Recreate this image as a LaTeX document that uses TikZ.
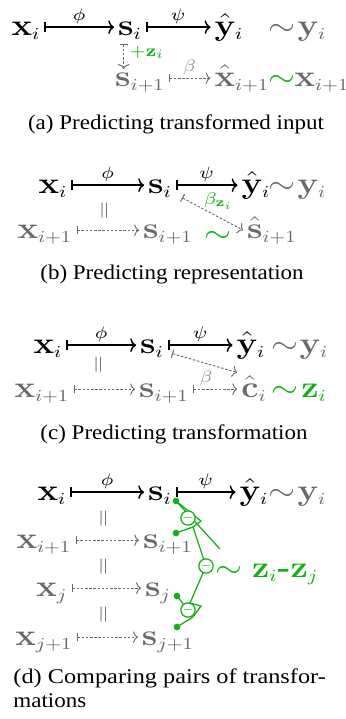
\documentclass[tikz,border=0pt]{standalone}
\usepackage{amsmath,amssymb,bm}
\usepackage[no-math]{fontspec}
\newfontfamily\capfont{Liberation Serif}
\usepackage{tikz}
\usetikzlibrary{arrows.meta,positioning,calc}
\DeclareMathSizes{14.4}{14.4}{8}{6}
\definecolor{green}{RGB}{20,175,20}
\definecolor{gray}{RGB}{105,105,105}
\definecolor{lightgray}{RGB}{150,150,150}

\begin{document}
\begin{tikzpicture}[x=0.478pt, y=-0.478pt,
    mnode/.style={xscale=1.15, inner sep=1.5pt, text height=10pt, text depth=2.5pt, font=\Large, anchor=base},
    gnode/.style={mnode, text=gray},
    lbl/.style={xscale=1.15, inner sep=1.5pt, font=\fontsize{8}{9}\selectfont},
    mapsto/.style={line width=0.7pt, {Bar[width=5pt,line width=0.8pt]}-{Computer Modern Rightarrow[width=6.5pt,length=2.8pt]}},
    dmapsto/.style={draw=gray, line width=0.45pt, dash pattern=on 1.2pt off 0.8pt, {Bar[width=4pt,line width=0.5pt]}-{Computer Modern Rightarrow[width=5.5pt,length=2.3pt]}},
    eqbar/.style={rotate=90, text=gray, inner sep=0pt, font=\fontsize{11}{12}\selectfont},
    captxt/.style={xscale=1.1, inner sep=0pt, anchor=base, font=\capfont\fontsize{10}{11.5}\selectfont},
    diff/.style={circle, draw=green, fill=white, line width=0.6pt, minimum size=6.2pt, inner sep=0pt, text=green, font=\fontsize{5}{5}\selectfont},
    gdot/.style={circle, fill=green, minimum size=3.2pt, inner sep=0pt},
    gline/.style={draw=green, line width=0.6pt}]
  \useasboundingbox (0,0) rectangle (346,719);

  % (a) predicting transformed input
  \node[mnode] (xA) at (26,35) {$\mathbf{x}_i$};
  \node[mnode] (sA) at (130,35) {$\mathbf{s}_i$};
  \node[mnode] (yhA) at (229,35) {$\hat{\mathbf{y}}_i$};
  \node[gnode] (simA) at (282,35) {$\sim$};
  \node[gnode] (yA) at (312,35) {$\mathbf{y}_i$};
  \node[gnode] (sA1) at (140,86) {$\mathbf{s}_{i+1}$};
  \node[gnode] (xhA) at (242,86) {$\hat{\mathbf{x}}_{i+1}$};
  \node[mnode, text=green] (simA2) at (282,86) {$\sim$};
  \node[gnode] (xA1) at (322,86) {$\mathbf{x}_{i+1}$};
  \draw[mapsto] (xA) -- node[lbl, above] {$\phi$} (sA);
  \draw[mapsto] (sA) -- node[lbl, above] {$\psi$} (yhA);
  \draw[dmapsto, shorten >=-3.5pt] ([xshift=-3pt]sA.south) -- node[lbl, right=1pt, text=green] {$+\mathbf{z}_i$} ([xshift=-3pt]sA.south |- sA1.north);
  \draw[dmapsto] (sA1) -- node[lbl, above, text=lightgray] {$\beta$} (xhA);
  \node[captxt] (capA) at (176,129) {(a)\ Predicting transformed input};

  % (b) predicting representation
  \node[mnode] (xB) at (53,193) {$\mathbf{x}_i$};
  \node[mnode] (sB) at (160,193) {$\mathbf{s}_i$};
  \node[mnode] (yhB) at (256,193) {$\hat{\mathbf{y}}_i$};
  \node[gnode] (simB) at (282,193) {$\sim$};
  \node[gnode] (yB) at (312,193) {$\mathbf{y}_i$};
  \node[eqbar] (eqB) at (106,211) {$=$};
  \node[gnode] (xB1) at (45,238) {$\mathbf{x}_{i+1}$};
  \node[gnode] (sB1) at (168,238) {$\mathbf{s}_{i+1}$};
  \node[mnode, text=green] (simB2) at (218,242) {$\sim$};
  \node[gnode] (shB) at (272,238) {$\hat{\mathbf{s}}_{i+1}$};
  \draw[mapsto] (xB) -- node[lbl, above] {$\phi$} (sB);
  \draw[mapsto] (sB) -- node[lbl, above] {$\psi$} (yhB);
  \draw[dmapsto] (xB1) -- (sB1);
  \draw[dmapsto] ([shift={(3pt,-6pt)}]sB.east) -- node[lbl, pos=0.6, above=2pt, text=green] {$\beta_{\mathbf{z}_i}$} (shB.west);
  \node[captxt] (capB) at (172,279) {(b)\ Predicting representation};

  % (c) predicting transformation
  \node[mnode] (xC) at (48,353) {$\mathbf{x}_i$};
  \node[mnode] (sC) at (152,353) {$\mathbf{s}_i$};
  \node[mnode] (yhC) at (251,353) {$\hat{\mathbf{y}}_i$};
  \node[gnode] (simC) at (285,353) {$\sim$};
  \node[gnode] (yC) at (314,353) {$\mathbf{y}_i$};
  \node[eqbar] (eqC) at (100,365) {$=$};
  \node[gnode] (xC1) at (42,397) {$\mathbf{x}_{i+1}$};
  \node[gnode] (sC1) at (164,397) {$\mathbf{s}_{i+1}$};
  \node[gnode] (chC) at (254,397) {$\hat{\mathbf{c}}_i$};
  \node[mnode, text=green] (simC2) at (285,397) {$\sim$};
  \node[mnode, text=green] (zC) at (314,397) {$\mathbf{z}_i$};
  \draw[mapsto] (xC) -- node[lbl, above] {$\phi$} (sC);
  \draw[mapsto] (sC) -- node[lbl, above] {$\psi$} (yhC);
  \draw[dmapsto] (xC1) -- (sC1);
  \draw[dmapsto] (sC1) -- node[lbl, pos=0.3, above, text=lightgray] {$\beta$} (chC);
  \draw[dmapsto] ([shift={(2pt,-4pt)}]sC.east) -- (chC.north west);
  \node[captxt] (capC) at (174,439) {(c)\ Predicting transformation};

  % (d) comparing pairs of transformations
  \node[mnode] (xD) at (52,500) {$\mathbf{x}_i$};
  \node[mnode] (sD) at (160,500) {$\mathbf{s}_i$};
  \node[mnode] (yhD) at (254,500) {$\hat{\mathbf{y}}_i$};
  \node[gnode] (simD) at (282,500) {$\sim$};
  \node[gnode] (yD) at (312,500) {$\mathbf{y}_i$};
  \node[eqbar] (eqD1) at (105,519) {$=$};
  \node[gnode] (xD1) at (44,548) {$\mathbf{x}_{i+1}$};
  \node[gnode] (sD1) at (168,548) {$\mathbf{s}_{i+1}$};
  \node[eqbar] (eqD2) at (105,567) {$=$};
  \node[gnode] (xDj) at (52,596) {$\mathbf{x}_j$};
  \node[gnode] (sDj) at (158,596) {$\mathbf{s}_j$};
  \node[eqbar] (eqD3) at (105,615) {$=$};
  \node[gnode] (xDj1) at (44,645) {$\mathbf{x}_{j+1}$};
  \node[gnode] (sDj1) at (168,645) {$\mathbf{s}_{j+1}$};
  \draw[mapsto] (xD) -- node[lbl, above] {$\phi$} (sD);
  \draw[mapsto] (sD) -- node[lbl, above] {$\psi$} (yhD);
  \draw[dmapsto] (xD1) -- (sD1);
  \draw[dmapsto] (xDj) -- (sDj);
  \draw[dmapsto] (xDj1) -- (sDj1);
  % green differences
  \node[gdot] (dI) at (176,501) {};
  \node[gdot] (dI1) at (176,533) {};
  \node[gdot] (dJ) at (177,596) {};
  \node[gdot] (dJ1) at (177,627) {};
  \coordinate (tI) at (201,521);
  \coordinate (bI) at (193,527);
  \coordinate (eI) at (220,549);
  \coordinate (aJ) at (190,603);
  \coordinate (tJ) at (201,606);
  \coordinate (bJ) at (193,617);
  \draw[gline] (dI.center) -- (tI) -- (bI) -- (dI1.center);
  \draw[gline] (dI.center) -- (eI);
  \draw[gline] (bI) -- (206,566) -- (aJ) -- (tJ) -- (bJ) -- (dJ1.center);
  \draw[gline] (dJ.center) -- (188,610);
  \node[diff] (mI) at (188,518) {$-$};
  \node[diff] (m0) at (206,566) {$-$};
  \node[diff] (mJ) at (188,610) {$-$};
  \node[mnode, text=green] (zD) at (267,577) {$\sim\mathbf{z}_i\textbf{-}\mathbf{z}_j$};
  \node[captxt, xscale=1.055, anchor=base west] (capD) at (13,683) {(d)\ Comparing pairs of transfor-};
  \node[captxt, anchor=base west] (capD2) at (13,707) {mations};
\end{tikzpicture}
\end{document}
